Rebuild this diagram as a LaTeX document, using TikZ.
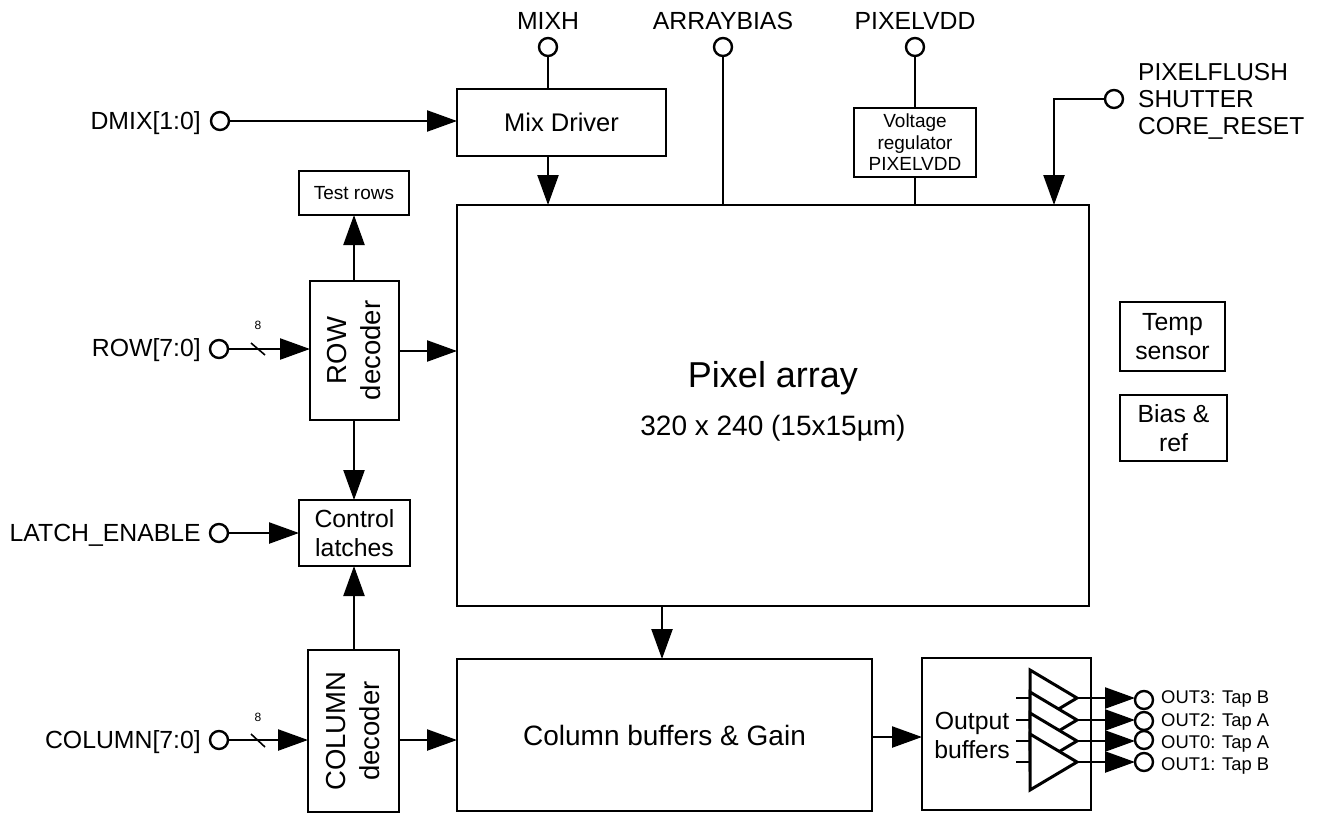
\documentclass[tikz,border=0pt]{standalone}
\usepackage{fontspec}
\setmainfont{Liberation Sans}
\usetikzlibrary{arrows.meta}
\tikzset{
  x=1pt,y=-1pt,
  conn/.style={line width=2.4pt},
  arr/.style={line width=2.4pt,-{Triangle[length=30pt,width=21pt]}},
  blk/.style={draw,line width=2.4pt,fill=white,inner sep=0pt,outer sep=0pt,align=center,anchor=north west,font=\fontsize{24.8}{29}\selectfont},
  pin/.style={draw,circle,line width=2.4pt,fill=white,minimum size=18pt,inner sep=0pt,outer sep=0pt},
  lab/.style={inner sep=0pt,font=\fontsize{24.8}{29}\selectfont},
  tri/.style={line width=3pt,fill=white,line join=miter},
  small/.style={font=\fontsize{19}{21.5}\selectfont},
  rot/.style={rotate=90,align=center,inner sep=0pt,font=\fontsize{27.5}{34}\selectfont},
  buslab/.style={inner sep=0pt,font=\fontsize{12}{14}\selectfont},
}
\begin{document}
\begin{tikzpicture}
\useasboundingbox (0,0) rectangle (1317,814);
% blocks
\node[blk,minimum width=209pt,minimum height=67pt,font=\fontsize{25.5}{29}\selectfont] (mix) at (457,89) {Mix Driver};
\node[blk,minimum width=110pt,minimum height=44pt,small] (test) at (299,171) {Test rows};
\node[blk,minimum width=89pt,minimum height=139pt] (row) at (310,281) {};
\node[rot] at (row.center) {ROW\\decoder};
\node[blk,minimum width=111pt,minimum height=66pt] (latch) at (299,500) {Control\\latches};
\node[blk,minimum width=91pt,minimum height=162pt] (col) at (308,650) {};
\node[rot] at (col.center) {COLUMN\\decoder};
\node[blk,minimum width=632pt,minimum height=401pt] (pix) at (457,205) {};
\node[lab,font=\fontsize{36}{40}\selectfont] (pixt) at (773,378) {Pixel array};
\node[lab,font=\fontsize{28}{32}\selectfont] (pixs) at (773,428) {320 x 240 (15x15µm)};
\node[blk,minimum width=415pt,minimum height=152pt,font=\fontsize{28}{32}\selectfont] (cb) at (457,659) {Column buffers \& Gain};
\node[blk,minimum width=169pt,minimum height=152pt] (ob) at (922,658) {};
\node[lab,align=center] (obt) at (972,735) {Output\\buffers};
\node[blk,minimum width=122pt,minimum height=69pt,small] (vr) at (854,108) {Voltage\\regulator\\PIXELVDD};
\node[blk,minimum width=105pt,minimum height=69pt] (temp) at (1120,302) {Temp\\sensor};
\node[blk,minimum width=107pt,minimum height=66pt] (bias) at (1120,395) {Bias \&\\ref};
% pins
\node[pin] (pmixh) at (548,47) {};
\node[pin] (parr) at (723,47) {};
\node[pin] (pvdd) at (915,47) {};
\node[pin] (pfl) at (1114,99) {};
\node[pin] (pdmix) at (220,121) {};
\node[pin] (prow) at (219,349) {};
\node[pin] (plat) at (219,533) {};
\node[pin] (pcol) at (219,740) {};
\node[lab] at (548,21) {MIXH};
\node[lab] at (723,21) {ARRAYBIAS};
\node[lab] at (915,21) {PIXELVDD};
\node[lab,align=left,anchor=north west,font=\fontsize{24.5}{27}\selectfont] at (1138,63.5) {PIXELFLUSH\\SHUTTER\\CORE\_RESET};
\node[lab,anchor=east] at (201,123) {DMIX[1:0]};
\node[lab,anchor=east] at (201,350) {ROW[7:0]};
\node[lab,anchor=east] at (201,535) {LATCH\_ENABLE};
\node[lab,anchor=east] at (201,742) {COLUMN[7:0]};
% connectors
\draw[conn] (pmixh) -- (pmixh|-mix.north);
\draw[conn] (parr) -- (parr|-pix.north);
\draw[conn] (pvdd) -- (pvdd|-vr.north);
\draw[conn] (pvdd|-vr.south) -- (pvdd|-pix.north);
\coordinate (flc) at (1054,99);
\draw[arr] (pfl) -- (flc) -- (flc|-pix.north);
\draw[arr] (pdmix) -- (pdmix-|mix.west);
\coordinate (mb) at (548,156);
\draw[arr] (mb) -- (mb|-pix.north);
\coordinate (rc) at (354,281);
\draw[arr] (rc) -- (rc|-test.south);
\draw[arr] (prow) -- (prow-|row.west);
\coordinate (re) at (399,351);
\draw[arr] (re) -- (re-|pix.west);
\coordinate (rs) at (354,420);
\draw[arr] (rs) -- (rs|-latch.north);
\draw[arr] (plat) -- (plat-|latch.west);
\coordinate (cn) at (354,650);
\draw[arr] (cn) -- (cn|-latch.south);
\draw[arr] (pcol) -- (pcol-|col.west);
\coordinate (ce) at (399,740);
\draw[arr] (ce) -- (ce-|cb.west);
\coordinate (pb) at (662,606);
\draw[arr] (pb) -- (pb|-cb.north);
\coordinate (be) at (872,737);
\draw[arr] (be) -- (be-|ob.west);
% bus slashes
\draw[line width=1.6pt] (251,343) -- (265,355);
\draw[line width=1.6pt] (251,734) -- (265,747);
\node[buslab] at (258,325) {8};
\node[buslab] at (258,717) {8};
% amplifiers
\foreach \y in {698,720,741,762}{
  \draw[conn] (1016,\y) -- (1030,\y);
  \draw[tri] (1030,\y-28) -- (1077,\y) -- (1030,\y+28) -- cycle;
}
\foreach \y/\py/\ty/\n/\t in {698/700/699/3/OUT3: Tap B,720/721/722/2/OUT2: Tap A,741/740/744/0/OUT0: Tap A,762/762/766/1/OUT1: Tap B}{
  \node[pin] (o\n) at (1144,\py) {};
  \node[lab,anchor=west,font=\fontsize{18.4}{21}\selectfont] at (1161,\ty) {\t};
  \coordinate (oa\n) at (1077,\y);
  \coordinate (ob\n) at (1135,\y);
  \draw[arr] (oa\n) -- (ob\n);
}
\end{tikzpicture}
\end{document}
